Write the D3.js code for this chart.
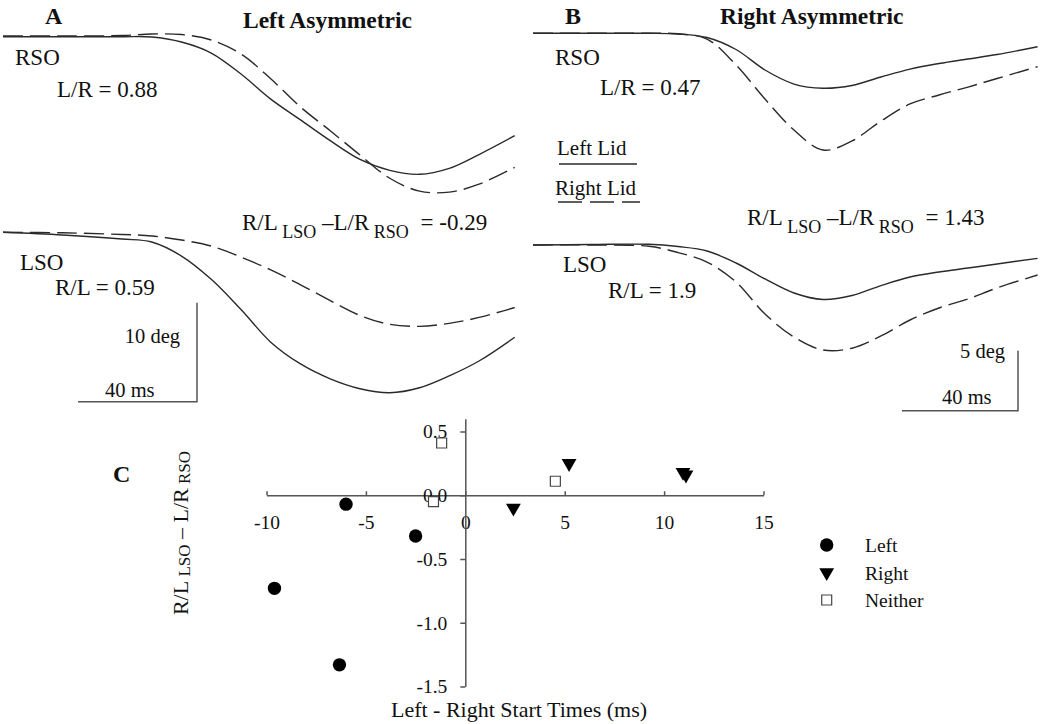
<!DOCTYPE html>
<html>
<head>
	<script src="https://cdn.jsdelivr.net/npm/d3@7/dist/d3.min.js"></script>
	<style>
		html, body {
			padding: 0;
			margin: 0;
			background: #fff;
		}
		text {
			font-family: "Liberation Serif", "Times New Roman", serif;
			fill: #111;
		}
	</style>
</head>
<body>
	<script>
		var width = 1050, height = 724;

		var svg = d3.select('body').append('svg')
			.attr('width', width)
			.attr('height', height)
			.style('background-color', '#fff');

		// ~ ~ ~ TRACE DATA (time in ms, lid position in deg) ~ ~ ~
		const timesA = [0, 20, 40, 50, 60, 70, 80, 90, 100, 110, 120, 130, 140, 150, 160, 172];
		const aRsoLeft  = [0, 0, 0, -0.03, -0.54, -1.65, -3.77, -6.3, -8.4, -10.5, -12.4, -13.5, -13.9, -13.3, -11.9, -10.0];
		const aRsoRight = [0.07, 0.07, 0.12, 0.27, 0.22, -0.33, -1.75, -4.25, -7.1, -9.5, -11.95, -14.3, -15.6, -15.7, -14.9, -13.2];
		const aLsoLeft  = [0, -0.27, -0.68, -0.98, -2.4, -4.75, -7.8, -11.1, -13.3, -14.8, -15.8, -16.2, -15.7, -14.5, -13.0, -10.6];
		const aLsoRight = [0, -0.05, -0.22, -0.37, -0.78, -1.39, -2.5, -3.8, -5.3, -6.9, -8.4, -9.3, -9.5, -9.2, -8.6, -7.6];

		const timesB = [0, 20, 40, 50, 60, 70, 80, 90, 100, 110, 120, 130, 140, 150, 160, 174];
		const bRsoLeft  = [0, 0, 0, -0.06, -0.35, -1.35, -3.06, -4.23, -4.58, -4.35, -3.64, -2.98, -2.52, -2.14, -1.77, -1.12];
		const bRsoRight = [0, 0, 0, -0.04, -0.48, -2.64, -5.48, -8.06, -9.73, -8.97, -7.31, -5.89, -5.14, -4.48, -3.77, -2.78];
		const bLsoLeft  = [0, 0.04, 0.06, -0.13, -0.5, -1.5, -2.83, -4.0, -4.54, -4.21, -3.38, -2.67, -2.25, -1.92, -1.58, -1.11];
		const bLsoRight = [0, 0, -0.11, -0.63, -1.42, -3.08, -5.75, -7.67, -8.75, -8.6, -7.58, -6.25, -5.25, -4.5, -3.58, -2.5];

		// ~ ~ ~ SCATTER DATA (panel C) ~ ~ ~
		const leftX = [-6.0, -2.5, -9.6, -6.33];
		const leftY = [-0.07, -0.32, -0.73, -1.33];
		const rightX = [2.42, 5.22, 10.95, 11.1];
		const rightY = [-0.10, 0.25, 0.18, 0.16];
		const neitherX = [-1.19, -1.6, 4.53];
		const neitherY = [0.41, -0.05, 0.11];

		const xTicks = [-10, -5, 0, 5, 10, 15];
		const yTicks = [0.5, 0.0, -0.5, -1.0, -1.5];
		const legendLabels = ['Left', 'Right', 'Neither'];

		// ~ ~ ~ STYLE ~ ~ ~
		const TRACE_COLOR = '#2a2a2a';
		const AXIS_COLOR = '#555';
		const DASH = '20,7';

		var label = function(x, y, txt, size, opts) {
			opts = opts || {};
			return svg.append('text')
				.attr('x', x)
				.attr('y', y)
				.attr('font-size', size)
				.attr('font-weight', opts.bold ? 'bold' : 'normal')
				.attr('text-anchor', opts.anchor || 'start')
				.text(txt);
		};

		// R/L_LSO - L/R_RSO with subscripts
		var ratioLabel = function(sel, value, sub, gap) {
			sel.append('tspan').text('R/L');
			sel.append('tspan').attr('font-size', sub).attr('dy', gap).text(' LSO');
			sel.append('tspan').attr('dy', -gap).text(value === null ? ' \u2013 L/R' : ' \u2013L/R');
			sel.append('tspan').attr('font-size', sub).attr('dy', gap).text(' RSO');
			if (value !== null)
				sel.append('tspan').attr('dy', -gap).attr('dx', 6).text(' = ' + value);
		};

		var drawTrace = function(times, vals, x, y, dashed) {
			var pts = times.map((t, i) => [t, vals[i]]);
			svg.append('path')
				.datum(pts)
				.attr('fill', 'none')
				.attr('stroke', TRACE_COLOR)
				.attr('stroke-width', 1.4)
				.attr('stroke-dasharray', dashed ? DASH : null)
				.attr('d', d3.line()
					.x(d => x(d[0]))
					.y(d => y(d[1]))
					.curve(d3.curveCatmullRom.alpha(0.5)));
		};

		var scaleBar = function(x, y, x0, yBase, ms, deg) {
			var len = x(ms) - x(0);
			var h = y(-deg) - y(0);
			svg.append('path')
				.attr('fill', 'none')
				.attr('stroke', AXIS_COLOR)
				.attr('stroke-width', 1.5)
				.attr('d', 'M' + x0 + ',' + yBase + 'H' + (x0 + len) + 'V' + (yBase - h));
		};

		// ~ ~ ~ PANEL A ~ ~ ~
		var xA = d3.scaleLinear().domain([0, 172]).range([3, 3 + 172 * 2.975]);
		var yARso = d3.scaleLinear().domain([0, -10]).range([36.7, 135.7]);
		var yALso = d3.scaleLinear().domain([0, -10]).range([232.3, 331.3]);

		drawTrace(timesA, aRsoLeft, xA, yARso, false);
		drawTrace(timesA, aRsoRight, xA, yARso, true);
		drawTrace(timesA, aLsoLeft, xA, yALso, false);
		drawTrace(timesA, aLsoRight, xA, yALso, true);

		label(45, 24, 'A', 24, { bold: true });
		label(243, 28, 'Left Asymmetric', 23.5, { bold: true });
		label(15, 65, 'RSO', 23);
		label(57, 97, 'L/R = 0.88', 23);
		label(20, 270, 'LSO', 23);
		label(55, 295, 'R/L = 0.59', 23);
		ratioLabel(label(242, 230, '', 23), '-0.29', 18, 8);
		label(180, 343, '10 deg', 20.5, { anchor: 'end' });
		label(105, 397, '40 ms', 20.5);
		scaleBar(xA, yALso, 78, 401.7, 40, 10);

		// ~ ~ ~ PANEL B ~ ~ ~
		var xB = d3.scaleLinear().domain([0, 174]).range([533, 533 + 174 * 2.9]);
		var yBRso = d3.scaleLinear().domain([0, -5]).range([33.3, 93.3]);
		var yBLso = d3.scaleLinear().domain([0, -5]).range([245, 305]);

		drawTrace(timesB, bRsoLeft, xB, yBRso, false);
		drawTrace(timesB, bRsoRight, xB, yBRso, true);
		drawTrace(timesB, bLsoLeft, xB, yBLso, false);
		drawTrace(timesB, bLsoRight, xB, yBLso, true);

		label(565, 24, 'B', 24, { bold: true });
		label(720, 24, 'Right Asymmetric', 23.5, { bold: true });
		label(555, 65, 'RSO', 23);
		label(600, 95, 'L/R = 0.47', 23);
		label(557, 155, 'Left Lid', 21);
		label(555, 195, 'Right Lid', 21);
		svg.append('line')
			.attr('x1', 559).attr('x2', 637).attr('y1', 164).attr('y2', 164)
			.attr('stroke', TRACE_COLOR).attr('stroke-width', 1.4);
		svg.append('line')
			.attr('x1', 558).attr('x2', 640).attr('y1', 202).attr('y2', 202)
			.attr('stroke', TRACE_COLOR).attr('stroke-width', 1.4)
			.attr('stroke-dasharray', '24,8');
		label(563, 272, 'LSO', 23);
		label(608, 298, 'R/L = 1.9', 23);
		ratioLabel(label(747, 225, '', 23), '1.43', 18, 8);
		label(1005, 358, '5 deg', 20.5, { anchor: 'end' });
		label(942, 404, '40 ms', 20.5);
		scaleBar(xB, yBLso, 902, 410.7, 40, 5);

		// ~ ~ ~ PANEL C ~ ~ ~
		var xC = d3.scaleLinear().domain([-10, 15]).range([266.5, 763.5]);
		var yC = d3.scaleLinear().domain([-1.5, 0.6]).range([686.5, 418.75]);

		var gx = svg.append('g')
			.attr('transform', 'translate(0,' + yC(0) + ')')
			.call(d3.axisBottom(xC)
				.tickValues(xTicks)
				.tickFormat(d => String(d))
				.tickSizeInner(-4)
				.tickSizeOuter(0)
				.tickPadding(20));

		var gy = svg.append('g')
			.attr('transform', 'translate(' + xC(0) + ',0)')
			.call(d3.axisLeft(yC)
				.tickValues(yTicks)
				.tickFormat(d => d.toFixed(1))
				.tickSizeInner(5)
				.tickSizeOuter(0)
				.tickPadding(13));

		[gx, gy].forEach(function(g) {
			g.selectAll('path, line').attr('stroke', AXIS_COLOR).attr('stroke-width', 1.5);
			g.selectAll('text')
				.attr('font-family', '"Liberation Serif", "Times New Roman", serif')
				.attr('font-size', 19.5)
				.attr('fill', '#111');
		});

		label(113, 482, 'C', 24, { bold: true });

		var yLab = svg.append('text')
			.attr('transform', 'translate(188,533) rotate(-90)')
			.attr('text-anchor', 'middle')
			.attr('font-size', 22);
		ratioLabel(yLab, null, 17, 2);

		label(519, 717, 'Left - Right Start Times (ms)', 22, { anchor: 'middle' });

		var circle = d3.symbol().type(d3.symbolCircle).size(140);
		var tri = d3.symbol().type(d3.symbolTriangle).size(95);
		var sq = d3.symbol().type(d3.symbolSquare).size(100);

		svg.selectAll('.pt-left')
			.data(leftX.map((x, i) => [x, leftY[i]]))
			.enter().append('path')
			.attr('class', 'pt-left')
			.attr('d', circle)
			.attr('fill', '#000')
			.attr('transform', d => 'translate(' + xC(d[0]) + ',' + yC(d[1]) + ')');

		svg.selectAll('.pt-right')
			.data(rightX.map((x, i) => [x, rightY[i]]))
			.enter().append('path')
			.attr('class', 'pt-right')
			.attr('d', tri)
			.attr('fill', '#000')
			.attr('transform', d => 'translate(' + xC(d[0]) + ',' + yC(d[1]) + ') rotate(180)');

		svg.selectAll('.pt-neither')
			.data(neitherX.map((x, i) => [x, neitherY[i]]))
			.enter().append('path')
			.attr('class', 'pt-neither')
			.attr('d', sq)
			.attr('fill', '#fff')
			.attr('stroke', '#444')
			.attr('stroke-width', 1.2)
			.attr('transform', d => 'translate(' + xC(d[0]) + ',' + yC(d[1]) + ')');

		// legend
		var legendSymbols = [
			{ d: circle, fill: '#000', stroke: 'none', rot: 0 },
			{ d: tri, fill: '#000', stroke: 'none', rot: 180 },
			{ d: sq, fill: '#fff', stroke: '#444', rot: 0 }
		];
		legendLabels.forEach(function(name, i) {
			var cy = 545 + i * 27.5;
			var s = legendSymbols[i];
			svg.append('path')
				.attr('d', s.d)
				.attr('fill', s.fill)
				.attr('stroke', s.stroke)
				.attr('stroke-width', 1.2)
				.attr('transform', 'translate(826.7,' + cy + ') rotate(' + s.rot + ')');
			label(865, cy + 7, name, 19.5);
		});
	</script>
</body>
</html>
